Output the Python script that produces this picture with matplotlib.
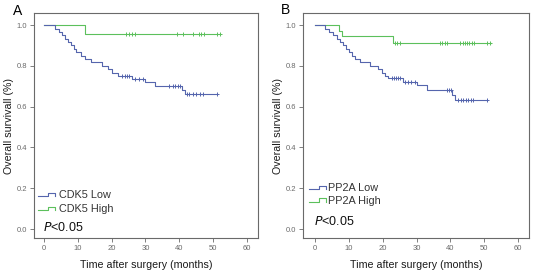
import numpy as np
import matplotlib
matplotlib.use('Agg')
import matplotlib.pyplot as plt

plt.rcParams['font.family'] = ['Liberation Sans', 'DejaVu Sans']

LOW_COLOR = '#5565ad'
HIGH_COLOR = '#5cc05c'
FRAME_COLOR = '#6a6a6a'

# Panel A: CDK5
cdk5_low_t = [0, 3.2, 4.3, 5.3, 6.2, 7.2, 8.0, 8.8, 9.6, 10.8, 12.0, 14.0, 17.0, 18.8, 20.0, 21.8,
              25.9, 29.9, 32.8, 40.7, 41.7]
cdk5_low_s = [1.0, 0.983, 0.967, 0.950, 0.933, 0.917, 0.900, 0.883, 0.867, 0.850, 0.833, 0.817,
              0.800, 0.783, 0.767, 0.750, 0.736, 0.722, 0.700, 0.683, 0.663]
cdk5_low_end = 51.2
cdk5_low_cens = [23.0, 23.8, 24.5, 25.2, 27.0, 28.0, 29.3, 37.0, 38.0, 38.8, 39.5, 40.3,
                 42.2, 43.0, 44.0, 45.0, 46.0, 47.0, 51.2]

cdk5_high_t = [0, 12.1]
cdk5_high_s = [1.0, 0.955]
cdk5_high_end = 52.0
cdk5_high_cens = [24.3, 25.0, 26.0, 27.0, 39.2, 41.0, 44.1, 45.9, 46.5, 47.3, 51.0, 52.0]

# Panel B: PP2A
pp2a_low_t = [0, 3.0, 4.2, 5.4, 6.4, 7.4, 8.4, 9.2, 10.0, 10.8, 11.8, 13.3, 16.3, 18.7, 19.7,
              20.7, 21.7, 26.0, 30.0, 33.0, 40.6, 41.4]
pp2a_low_s = [1.0, 0.983, 0.967, 0.950, 0.933, 0.917, 0.900, 0.883, 0.867, 0.850, 0.833, 0.817,
              0.800, 0.783, 0.767, 0.750, 0.738, 0.722, 0.706, 0.681, 0.657, 0.632]
pp2a_low_end = 50.9
pp2a_low_cens = [22.7, 23.4, 24.0, 24.6, 25.1, 26.5, 27.5, 28.5, 29.5, 38.9, 39.6, 40.3,
                 42.4, 43.1, 43.8, 44.5, 45.3, 46.0, 46.8, 50.9]

pp2a_high_t = [0, 7.0, 8.0, 23.0]
pp2a_high_s = [1.0, 0.970, 0.946, 0.913]
pp2a_high_end = 52.0
pp2a_high_cens = [23.6, 24.3, 25.1, 36.8, 37.4, 38.3, 39.1, 42.9, 43.6, 44.3, 45.0, 45.6,
                  46.3, 47.0, 50.7, 51.7]

x_ticks = [0, 10, 20, 30, 40, 50, 60]
y_ticks = [0.0, 0.2, 0.4, 0.6, 0.8, 1.0]


def km_curve(ax, t, s, end, cens, color):
    tt = list(t) + [end]
    ss = list(s) + [s[-1]]
    ax.step(tt, ss, where='post', color=color, lw=0.8)
    idx = np.searchsorted(t, cens, side='right') - 1
    cy = np.array(s)[idx]
    ax.plot(cens, cy, linestyle='none', marker='+', ms=3.5, mew=0.7, color=color)


def legend_icon(ax, x0, y0, color):
    # small step-shaped legend key, axes coords
    xs = [x0, x0 + 0.045, x0 + 0.045, x0 + 0.075, x0 + 0.075]
    ys = [y0, y0, y0 + 0.014, y0 + 0.014, y0 - 0.002]
    ax.plot(xs, ys, color=color, lw=0.8, transform=ax.transAxes, clip_on=False)


def setup_axes(ax, xlim):
    ax.set_xlim(*xlim)
    ax.set_ylim(-0.044, 1.059)
    ax.set_xticks(x_ticks)
    ax.set_yticks(y_ticks)
    ax.set_yticklabels([f'{v:.1f}' for v in y_ticks])
    ax.tick_params(direction='out', length=3, width=0.6, colors=FRAME_COLOR,
                   labelsize=5.5, pad=2)
    for sp in ax.spines.values():
        sp.set_color(FRAME_COLOR)
        sp.set_linewidth(0.8)
    ax.set_xlabel('Time after surgery (months)', fontsize=7.7, color='#1a1a1a', labelpad=6)
    ax.set_ylabel('Overall survivall (%)', fontsize=7.7, color='#1a1a1a', labelpad=2)


fig = plt.figure(figsize=(5.36, 2.73), dpi=100)
axA = fig.add_axes([34 / 536, 35 / 273, 224 / 536, 225 / 273])
axB = fig.add_axes([303 / 536, 35 / 273, 226 / 536, 225 / 273])

setup_axes(axA, (-2.95, 63.25))
setup_axes(axB, (-3.55, 63.25))

km_curve(axA, cdk5_high_t, cdk5_high_s, cdk5_high_end, cdk5_high_cens, HIGH_COLOR)
km_curve(axA, cdk5_low_t, cdk5_low_s, cdk5_low_end, cdk5_low_cens, LOW_COLOR)
km_curve(axB, pp2a_high_t, pp2a_high_s, pp2a_high_end, pp2a_high_cens, HIGH_COLOR)
km_curve(axB, pp2a_low_t, pp2a_low_s, pp2a_low_end, pp2a_low_cens, LOW_COLOR)

# legends (drawn by hand to mimic SPSS keys)
legend_icon(axA, 0.018, 0.188, LOW_COLOR)
axA.text(0.112, 0.191, 'CDK5 Low', transform=axA.transAxes, fontsize=7.8, color='#333333', va='center')
legend_icon(axA, 0.018, 0.126, HIGH_COLOR)
axA.text(0.112, 0.129, 'CDK5 High', transform=axA.transAxes, fontsize=7.8, color='#333333', va='center')
axA.text(0.04, 0.045, '$\\it{P}$<0.05', transform=axA.transAxes, fontsize=9, color='#111111', va='center')

legend_icon(axB, 0.025, 0.218, LOW_COLOR)
axB.text(0.112, 0.221, 'PP2A Low', transform=axB.transAxes, fontsize=7.8, color='#333333', va='center')
legend_icon(axB, 0.025, 0.162, HIGH_COLOR)
axB.text(0.112, 0.165, 'PP2A High', transform=axB.transAxes, fontsize=7.8, color='#333333', va='center')
axB.text(0.05, 0.073, '$\\it{P}$<0.05', transform=axB.transAxes, fontsize=9, color='#111111', va='center')

fig.text(13 / 536, 1 - 11 / 273, 'A', fontsize=10, va='center', ha='left')
fig.text(281 / 536, 1 - 10 / 273, 'B', fontsize=10, va='center', ha='left')

fig.savefig('out.png', dpi=100)
